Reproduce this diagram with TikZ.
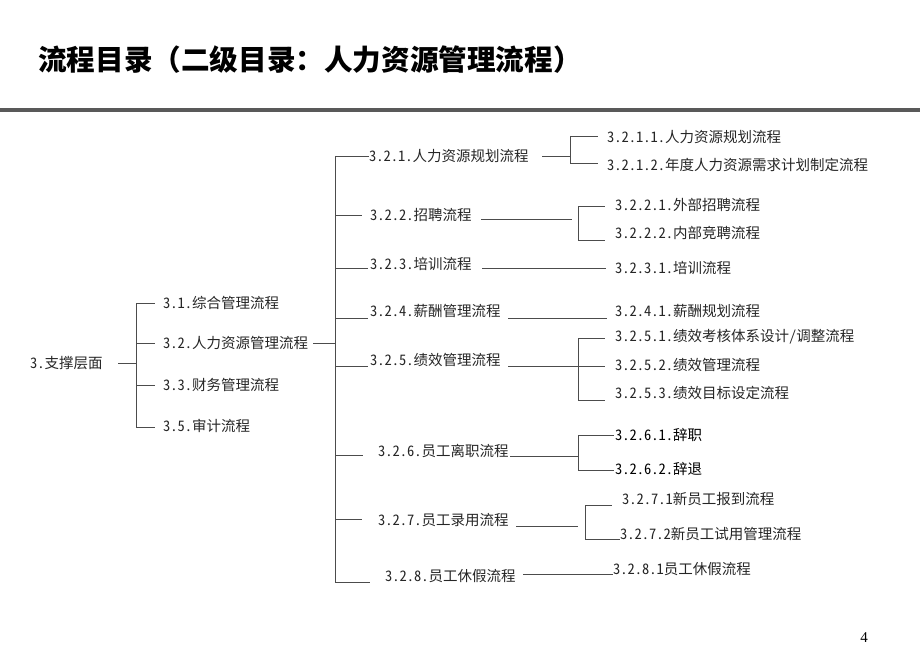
\documentclass[tikz,border=0pt]{standalone}
\usepackage{fontspec}
\setmainfont{Liberation Serif}
\newfontfamily\cjk{Noto Sans CJK SC}[RawFeature=+hwid]
\newfontfamily\cjkt{Noto Sans CJK SC}
\begin{document}
\begin{tikzpicture}[x=1pt,y=-1pt,
  lbl/.style={anchor=west,inner sep=0pt,text=black!85,font=\cjk\fontsize{14.5}{16}\selectfont},
  conn/.style={draw=black!70,line width=0.9pt},
  sep/.style={draw=black!65,line width=4pt}]
\useasboundingbox (0,0) rectangle (920,663);
% title
\node[anchor=west,inner sep=0pt,font=\cjkt\bfseries\fontsize{28.6}{32}\selectfont] (title) at (38,60) {流程目录（二级目录：人力资源管理流程）};
\coordinate (sepL) at (0,110);
\coordinate (sepR) at (920,110);
\draw[sep] (sepL) -- (sepR);
% page number
\node[inner sep=0pt,font=\fontsize{15}{17}\selectfont] (pg) at (864,638) {4};

% level 1
\node[lbl] (n3) at (30,363) {3.支撑层面};
\node[lbl] (n31) at (163,303) {3.1.综合管理流程};
\node[lbl] (n32) at (163,343) {3.2.人力资源管理流程};
\node[lbl] (n33) at (163,385) {3.3.财务管理流程};
\node[lbl] (n35) at (163,426) {3.5.审计流程};
% level 2
\node[lbl] (n321) at (369,156) {3.2.1.人力资源规划流程};
\node[lbl] (n322) at (370,215) {3.2.2.招聘流程};
\node[lbl] (n323) at (370,264) {3.2.3.培训流程};
\node[lbl] (n324) at (370,311) {3.2.4.薪酬管理流程};
\node[lbl] (n325) at (370,360) {3.2.5.绩效管理流程};
\node[lbl] (n326) at (378,451) {3.2.6.员工离职流程};
\node[lbl] (n327) at (378,520) {3.2.7.员工录用流程};
\node[lbl] (n328) at (385,576) {3.2.8.员工休假流程};
% level 3
\node[lbl] (n3211) at (607,137) {3.2.1.1.人力资源规划流程};
\node[lbl] (n3212) at (607,165) {3.2.1.2.年度人力资源需求计划制定流程};
\node[lbl] (n3221) at (615,205) {3.2.2.1.外部招聘流程};
\node[lbl] (n3222) at (615,233) {3.2.2.2.内部竞聘流程};
\node[lbl] (n3231) at (615,268) {3.2.3.1.培训流程};
\node[lbl] (n3241) at (615,311) {3.2.4.1.薪酬规划流程};
\node[lbl] (n3251) at (615,337) {3.2.5.1.绩效考核体系设计/调整流程};
\node[lbl] (n3252) at (615,365) {3.2.5.2.绩效管理流程};
\node[lbl] (n3253) at (615,393) {3.2.5.3.绩效目标设定流程};
\node[lbl,text=black] (n3261) at (615,435) {3.2.6.1.辞职};
\node[lbl,text=black] (n3262) at (615,469) {3.2.6.2.辞退};
\node[lbl] (n3271) at (622,499) {3.2.7.1新员工报到流程};
\node[lbl] (n3272) at (620,534) {3.2.7.2新员工试用管理流程};
\node[lbl] (n3281) at (613,569) {3.2.8.1员工休假流程};

% level 1 connectors
\coordinate (a0) at (118,363);
\coordinate (aj) at (136,363);
\coordinate (at) at (136,303);
\coordinate (ab) at (136,427);
\draw[conn] (a0) -- (aj);
\draw[conn] (at) -- (ab);
\draw[conn] (at) -- (155,303);
\draw[conn] (136,343) -- (155,343);
\draw[conn] (136,385) -- (155,385);
\draw[conn] (ab) -- (155,427);

% level 2 connectors
\coordinate (b0) at (313,343);
\coordinate (bj) at (335,343);
\coordinate (bt) at (335,156);
\coordinate (bb) at (335,582);
\draw[conn] (b0) -- (bj);
\draw[conn] (bt) -- (bb);
\draw[conn] (bt) -- (n321.west);
\draw[conn] (335,215) -- (362,215);
\draw[conn] (335,268) -- (368,268);
\draw[conn] (335,318) -- (368,318);
\draw[conn] (335,366) -- (368,366);
\draw[conn] (335,455) -- (363,455);
\draw[conn] (335,519) -- (362,519);
\draw[conn] (bb) -- (370,582);

% 3.2.1 subtree
\draw[conn] (542,156) -- (570,156);
\draw[conn] (570,136) -- (570,163);
\draw[conn] (570,136) -- (598,136);
\draw[conn] (570,163) -- (598,163);
% 3.2.2 subtree
\draw[conn] (481,219) -- (572,219);
\draw[conn] (578,206) -- (578,240);
\draw[conn] (578,206) -- (605,206);
\draw[conn] (578,240) -- (605,240);
% 3.2.3
\draw[conn] (482,268) -- (606,268);
% 3.2.4
\draw[conn] (508,318) -- (607,318);
% 3.2.5 subtree
\draw[conn] (508,366) -- (605,366);
\draw[conn] (578,338) -- (578,400);
\draw[conn] (578,338) -- (605,338);
\draw[conn] (578,400) -- (605,400);
% 3.2.6 subtree
\draw[conn] (510,456) -- (578,456);
\draw[conn] (578,435) -- (578,470);
\draw[conn] (578,435) -- (614,435);
\draw[conn] (578,470) -- (614,470);
% 3.2.7 subtree
\draw[conn] (516,526) -- (578,526);
\draw[conn] (585,505) -- (585,539);
\draw[conn] (585,505) -- (612,505);
\draw[conn] (585,539) -- (620,539);
% 3.2.8
\draw[conn] (523,574) -- (613,574);
\end{tikzpicture}
\end{document}
